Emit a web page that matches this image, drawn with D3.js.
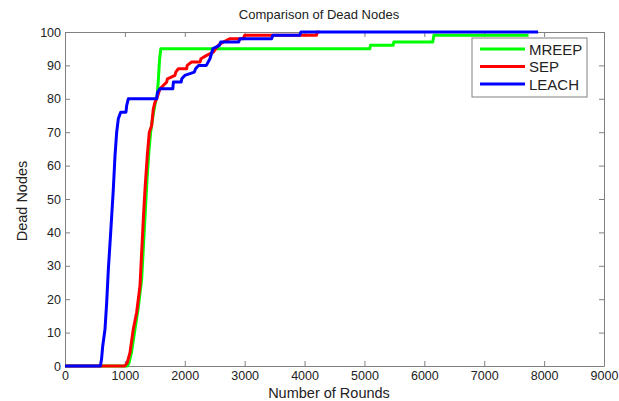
<!DOCTYPE html>
<html>
<head>
<meta charset="utf-8">
<script src="https://cdn.jsdelivr.net/npm/d3@7"></script>
<style>
  body { margin: 0; background: #fff; }
  svg text { font-family: "Liberation Sans", Arial, sans-serif; fill: #222; }
</style>
</head>
<body>
<svg id="chart" width="619" height="401"></svg>
<script>
// series names, in plotting order
var seriesNames = ["MREEP", "SEP", "LEACH"];
var seriesColors = ["#00ff00", "#ff0000", "#0000ff"];

// [round, dead nodes]
var mreep = [[0,0],[1040,0],[1070,1],[1110,4],[1160,10],[1220,17],[1280,26],[1310,36],[1340,46],
  [1370,56],[1400,64],[1430,70],[1470,75],[1510,79],[1540,81],[1560,86],[1580,92],[1600,95],
  [5090,95],[5100,96],[5480,96],[5490,97],[6140,97],[6160,99],[7740,99]];

var sep = [[0,0],[1000,0],[1040,1],[1085,4],[1140,11],[1196,16],[1252,24],[1280,34],[1308,44],
  [1336,53],[1374,63],[1408,70],[1447,72],[1475,77],[1503,79],[1531,80],[1586,83],[1697,85],
  [1710,86],[1836,87],[1850,88],[1892,89],[2031,89],[2040,90],[2114,91],[2254,91],[2270,92],
  [2365,93],[2476,94],[2560,96],[2643,97],[2755,98],[2977,98],[3000,99],[4200,99],[4210,100],[4250,100]];

var leach = [[0,0],[590,0],[610,2],[630,6],[668,11],[696,19],[724,29],[763,40],[807,53],[835,63],
  [863,70],[890,74],[910,75],[930,76],[1018,76],[1030,78],[1057,80],[1530,80],[1545,82],[1586,83],
  [1800,83],[1810,85],[1940,85],[1950,86],[2000,87],[2160,88],[2180,89],[2230,90],[2360,90],
  [2420,92],[2470,95],[2580,96],[2600,97],[2900,97],[2920,98],[3450,98],[3470,99],[3920,99],
  [3940,100],[7900,100]];

var xTicks = [0,1000,2000,3000,4000,5000,6000,7000,8000,9000];
var yTicks = [0,10,20,30,40,50,60,70,80,90,100];

var svg = d3.select("#chart");
var plotLeft = 65, plotRight = 604, plotTop = 32, plotBottom = 366;

var x = d3.scaleLinear().domain([0, 9000]).range([plotLeft, plotRight]);
var y = d3.scaleLinear().domain([0, 100]).range([plotBottom, plotTop]);

// axes, matlab style: box with inward ticks on all sides
var axisColor = "#808080";
function styleAxis(g) {
  g.select(".domain").attr("stroke", axisColor);
  g.selectAll(".tick line").attr("stroke", axisColor);
  g.selectAll(".tick text").attr("font-size", 12.5).attr("fill", "#222")
    .attr("font-family", "Liberation Sans, Arial, sans-serif");
}

svg.append("g")
  .attr("transform", "translate(0," + plotBottom + ")")
  .call(d3.axisBottom(x).tickValues(xTicks).tickFormat(d3.format("d"))
    .tickSizeInner(-5).tickSizeOuter(0).tickPadding(5))
  .call(styleAxis);
svg.append("g")
  .attr("transform", "translate(0," + plotTop + ")")
  .call(d3.axisTop(x).tickValues(xTicks).tickSizeInner(-5).tickSizeOuter(0).tickFormat(""))
  .call(styleAxis);
svg.append("g")
  .attr("transform", "translate(" + plotLeft + ",0)")
  .call(d3.axisLeft(y).tickValues(yTicks).tickFormat(d3.format("d"))
    .tickSizeInner(-5).tickSizeOuter(0).tickPadding(4))
  .call(styleAxis);
svg.append("g")
  .attr("transform", "translate(" + plotRight + ",0)")
  .call(d3.axisRight(y).tickValues(yTicks).tickSizeInner(-5).tickSizeOuter(0).tickFormat(""))
  .call(styleAxis);

// lines
var line = d3.line()
  .x(function (d) { return x(d[0]); })
  .y(function (d) { return y(d[1]); });

[mreep, sep, leach].forEach(function (data, i) {
  svg.append("path")
    .datum(data)
    .attr("fill", "none")
    .attr("stroke", seriesColors[i])
    .attr("stroke-width", 3)
    .attr("stroke-linejoin", "round")
    .attr("d", line);
});

// titles
svg.append("text")
  .attr("x", 319).attr("y", 19)
  .attr("text-anchor", "middle")
  .attr("font-size", 13)
  .text("Comparison of Dead Nodes");

svg.append("text")
  .attr("x", 329).attr("y", 398)
  .attr("text-anchor", "middle")
  .attr("font-size", 14.5)
  .text("Number of Rounds");

svg.append("text")
  .attr("transform", "translate(27,201) rotate(-90)")
  .attr("text-anchor", "middle")
  .attr("font-size", 14.5)
  .text("Dead Nodes");

// legend
var legend = svg.append("g").attr("transform", "translate(472,38)");
legend.append("rect")
  .attr("width", 115).attr("height", 59)
  .attr("fill", "#fff")
  .attr("stroke", axisColor);
seriesNames.forEach(function (name, i) {
  var ly = 11 + i * 17.5;
  legend.append("line")
    .attr("x1", 8).attr("x2", 53)
    .attr("y1", ly).attr("y2", ly)
    .attr("stroke", seriesColors[i])
    .attr("stroke-width", 3);
  legend.append("text")
    .attr("x", 57).attr("y", ly + 5.5)
    .attr("font-size", 15)
    .text(name);
});
</script>
</body>
</html>
